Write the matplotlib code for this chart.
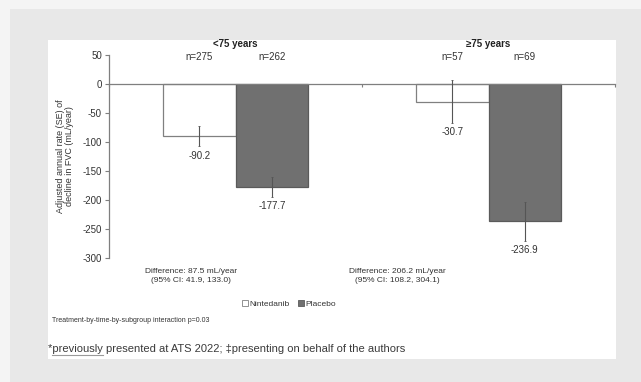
import matplotlib.pyplot as plt
from matplotlib.patches import Rectangle, Patch
from matplotlib.lines import Line2D

plt.rcParams['font.family'] = ['Liberation Sans', 'DejaVu Sans']
plt.rcParams['axes.unicode_minus'] = False

# data
groups = ["<75 years", "\u226575 years"]
treatments = ["Nintedanib", "Placebo"]
n_nintedanib = [275, 57]
n_placebo = [262, 69]
rate_nintedanib = [-90.2, -30.7]
rate_placebo = [-177.7, -236.9]
se_nintedanib = [17.5, 37.0]
se_placebo = [17.5, 33.0]
diff_text = ["Difference: 87.5 mL/year\n(95% CI: 41.9, 133.0)",
             "Difference: 206.2 mL/year\n(95% CI: 108.2, 304.1)"]

W, H = 641, 382
fig = plt.figure(figsize=(W / 100, H / 100), dpi=100, facecolor="#f4f4f4")

# slide background and white panel
fig.patches.append(Rectangle((10 / W, 0), 1, (H - 9) / H, transform=fig.transFigure,
                             facecolor="#e8e8e8", edgecolor="none", zorder=-2))
fig.patches.append(Rectangle((48 / W, (H - 359) / H), (616 - 48) / W, (359 - 40) / H,
                             transform=fig.transFigure, facecolor="white",
                             edgecolor="none", zorder=-1))

ax = fig.add_axes([109 / W, (H - 258) / H, 506 / W, 203 / H])
ax.patch.set_alpha(0)

x = [0, 1]
w = 0.287
axis_col = "#7f7f7f"
txt_col = "#333333"

ax.bar([i - w / 2 for i in x], rate_nintedanib, width=w, color="white",
       edgecolor="#808080", linewidth=0.9, zorder=2)
ax.bar([i + w / 2 for i in x], rate_placebo, width=w, color="#707070",
       edgecolor="#5a5a5a", linewidth=0.9, zorder=2)
ax.errorbar([i - w / 2 for i in x], rate_nintedanib, yerr=se_nintedanib, fmt="none",
            ecolor="#555555", elinewidth=0.8, capsize=1, capthick=0.6, zorder=3)
ax.errorbar([i + w / 2 for i in x], rate_placebo, yerr=se_placebo, fmt="none",
            ecolor="#555555", elinewidth=0.8, capsize=1, capthick=0.6, zorder=3)

# value labels under the error bars
for vals, ses, off in [(rate_nintedanib, se_nintedanib, -w / 2),
                       (rate_placebo, se_placebo, w / 2)]:
    for i, (v, s) in enumerate(zip(vals, ses)):
        ax.annotate(f"{v:.1f}", (i + off, v - s), xytext=(0, -3),
                    textcoords="offset points", ha="center", va="top",
                    fontsize=7, color=txt_col)

# group titles and sample sizes
for i in x:
    ax.text(i, 69, groups[i], ha="center", va="center", fontsize=7,
            fontweight="bold", color="#222222", clip_on=False)
    ax.text(i - w / 2, 46.5, f"n={n_nintedanib[i]}", ha="center", va="center",
            fontsize=7, color=txt_col, clip_on=False)
    ax.text(i + w / 2, 46.5, f"n={n_placebo[i]}", ha="center", va="center",
            fontsize=7, color=txt_col, clip_on=False)

ax.set_xlim(-0.5, 1.5)
ax.set_ylim(-300, 50)
ax.set_yticks(range(-300, 51, 50))
ax.set_xticks([-0.5, 0.5, 1.5])
ax.set_xticklabels([])
for s in ["top", "right"]:
    ax.spines[s].set_visible(False)
ax.spines["bottom"].set_position(("data", 0))
for s in ["left", "bottom"]:
    ax.spines[s].set_color(axis_col)
    ax.spines[s].set_linewidth(0.9)
ax.tick_params(axis="y", direction="out", length=3, width=0.8, color=axis_col,
               labelsize=7, labelcolor=txt_col, pad=2)
ax.tick_params(axis="x", direction="out", length=2, width=0.8, color=axis_col)
ax.set_ylabel("Adjusted annual rate (SE) of\ndecline in FVC (mL/year)",
              fontsize=6.5, color=txt_col, labelpad=6, linespacing=1.1)

# difference annotations
fig.text(191 / W, (H - 276) / H, diff_text[0], ha="center", va="center",
         fontsize=6, color=txt_col, linespacing=1.35)
fig.text(397 / W, (H - 276) / H, diff_text[1], ha="center", va="center",
         fontsize=6, color=txt_col, linespacing=1.35)

handles = [Patch(facecolor="white", edgecolor="#808080", linewidth=0.6),
           Patch(facecolor="#707070", edgecolor="#5a5a5a", linewidth=0.6)]
fig.legend(handles, treatments, loc="center", bbox_to_anchor=(289 / W, (H - 304) / H),
           ncol=2, frameon=False, fontsize=6, handlelength=0.7, handleheight=0.7,
           handletextpad=0.2, columnspacing=1.0, labelcolor=txt_col)

fig.text(52 / W, (H - 321) / H, "Treatment-by-time-by-subgroup interaction p=0.03",
         ha="left", va="center", fontsize=5, color=txt_col)

fs_foot = 8.0
foot = fig.text(48 / W, (H - 349) / H,
                "*previously presented at ATS 2022; \u2021presenting on behalf of the authors",
                ha="left", va="center", fontsize=fs_foot, color="#3a3a3a")

# grey underline below "previously"
fig.canvas.draw()
r = fig.canvas.get_renderer()
probe = fig.text(48 / W, (H - 349) / H, "*", fontsize=fs_foot)
probe2 = fig.text(48 / W, (H - 349) / H, "*previously", fontsize=fs_foot)
x0 = probe.get_window_extent(r).x1 / W
x1 = probe2.get_window_extent(r).x1 / W
probe.remove()
probe2.remove()
fig.lines.append(Line2D([x0, x1], [(H - 355) / H] * 2, transform=fig.transFigure,
                        color="#9a9a9a", linewidth=0.8))

fig.savefig("out.png", dpi=100, facecolor=fig.get_facecolor())
